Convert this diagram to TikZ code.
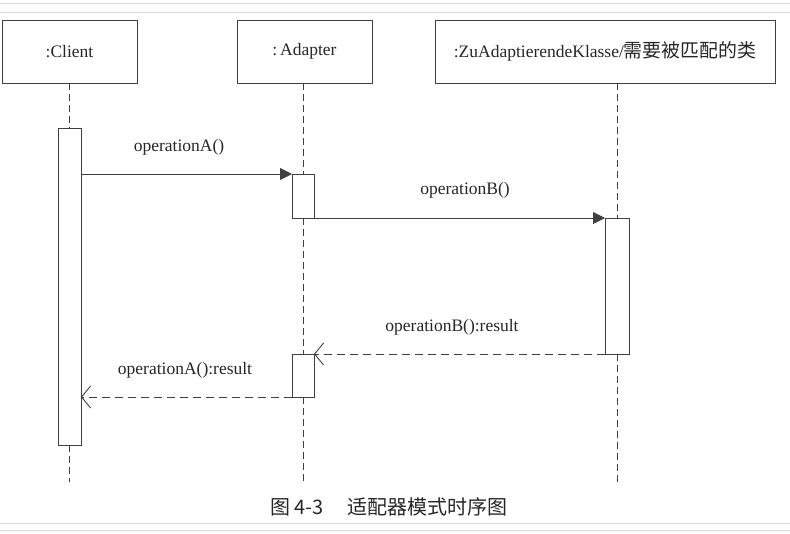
\documentclass[tikz,border=0pt]{standalone}
\usepackage{fontspec}
\setmainfont{Liberation Serif}
\newfontfamily\cjk[Scale=1.08]{Noto Sans CJK SC}
\usetikzlibrary{arrows.meta}

\begin{document}
\begin{tikzpicture}[x=1pt,y=1pt]
	\tikzstyle{every node}+=[inner sep=0pt, outer sep=0pt, text=black!85, font=\fontsize{17.5}{20}\selectfont]
	\tikzstyle{obj}=[draw=black!75, line width=0.9pt, minimum height=63pt]
	\tikzstyle{act}=[draw=black!75, line width=0.9pt, minimum width=23pt]
	\tikzstyle{life}=[black!75, line width=0.9pt, dash pattern=on 7pt off 4pt]
	\tikzstyle{call}=[black!75, line width=0.9pt, -{Triangle[length=12pt,width=12pt]}]
	\tikzstyle{ret}=[black!75, line width=0.9pt, dash pattern=on 8pt off 5pt, -{Straight Barb[length=9pt,width=22pt]}]
	\useasboundingbox (0,0) rectangle (790,-533);
	\draw [black!15] (0,-3) -- (790,-3);
	\draw [black!15] (0,-12) -- (790,-12);
	\draw [black!15] (0,-523) -- (790,-523);
	\draw [black!15] (0,-530) -- (790,-530);
	\node [obj, minimum width=135pt] (client) at (69.5,-51.5) {:Client};
	\node [obj, minimum width=135pt] (adapter) at (304.5,-51.5) {:\,Adapter};
	\node [obj, minimum width=340pt] (adaptee) at (605,-51.5) {:ZuAdaptierendeKlasse/{\cjk 需要被匹配的类}};
	\node [act, minimum height=317pt] (clientact) at (69.5,-286.5) {};
	\node [act, minimum height=44pt, minimum width=22pt] (adapteract) at (303,-196) {};
	\node [act, minimum height=43pt, minimum width=22pt] (adapterret) at (303,-375.5) {};
	\node [act, minimum height=136pt, minimum width=24pt] (adapteeact) at (617,-286) {};
	\coordinate (clientend) at (69.5,-482);
	\coordinate (adapterend) at (303,-482);
	\coordinate (adapteeend) at (617,-482);
	\draw [life] (clientact.north |- client.south) -- (clientact.north);
	\draw [life] (clientact.south) -- (clientend);
	\draw [life] (adapteract.north |- adapter.south) -- (adapteract.north);
	\draw [life] (adapteract.south) -- (adapterret.north);
	\draw [life] (adapterret.south) -- (adapterend);
	\draw [life] (adapteeact.north |- adaptee.south) -- (adapteeact.north);
	\draw [life] (adapteeact.south) -- (adapteeend);
	\draw [call] (clientact.east |- adapteract.north) -- (adapteract.north west);
	\draw [call] (adapteract.south east) -- (adapteeact.north west);
	\draw [ret] (adapteeact.south west) -- (adapterret.north east);
	\draw [ret] (adapterret.south west) -- (clientact.east |- adapterret.south);
	\node (opa) at (179,-147) {operationA()};
	\node (opb) at (465,-190) {operationB()};
	\node (opbres) at (452,-327) {operationB():result};
	\node (opares) at (185,-370) {operationA():result};
	\node (caption) at (389,-507) {\cjk\fontsize{18.5}{20}\selectfont 图 4-3\hspace{1.2em}适配器模式时序图};
\end{tikzpicture}
\end{document}
